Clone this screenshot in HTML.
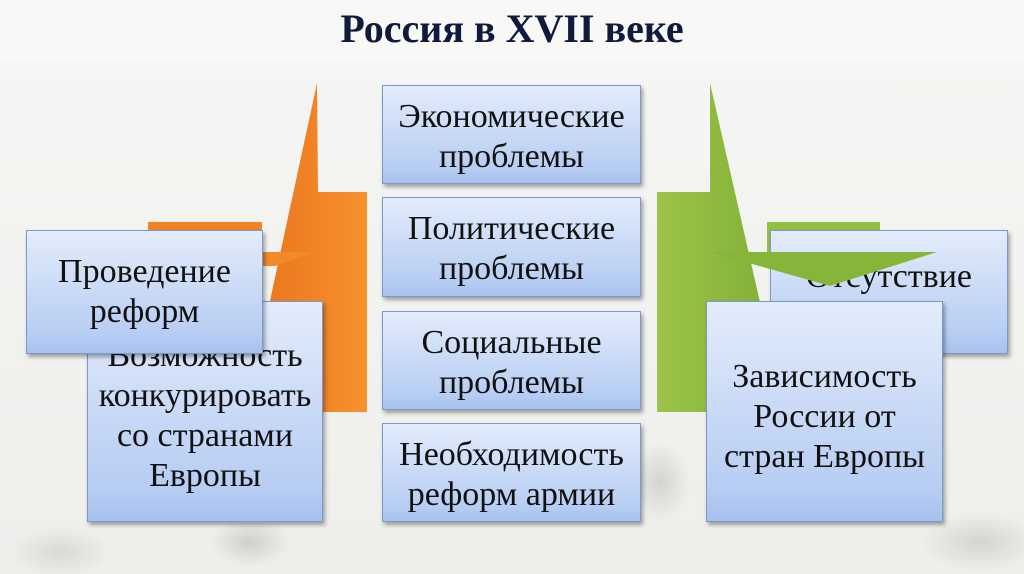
<!DOCTYPE html>
<html><head><meta charset="utf-8"><style>
body{margin:0;width:1024px;height:574px;overflow:hidden;background:#f8f8f7;font-family:"Liberation Serif",serif;position:relative}
.bg{position:absolute;left:0;top:62px;width:1024px;height:512px;background:radial-gradient(ellipse 40px 25px at 250px 480px,#cfcfcc,transparent),radial-gradient(ellipse 30px 40px at 660px 420px,#d3d3d0,transparent),radial-gradient(ellipse 60px 30px at 980px 480px,#d4d4d1,transparent),radial-gradient(ellipse 50px 25px at 60px 490px,#d8d8d5,transparent),linear-gradient(#f5f5f3,#eeeeeb)}
.t{position:absolute;top:5px;left:0;width:1024px;text-align:center;font-weight:bold;font-size:40px;color:#0f1a3c}
.b{position:absolute;box-sizing:border-box;border:1px solid #7d99cc;background:linear-gradient(#e3ecfb,#b7cdf3 85%,#a7c1ee);box-shadow:2px 3px 4px rgba(0,0,0,.35);display:flex;align-items:center;justify-content:center;text-align:center;font-size:34px;line-height:40px;color:#111;white-space:nowrap}
svg{position:absolute;left:0;top:0}
</style></head><body>
<div class="bg"></div>
<div class="t">Россия в XVII веке</div>
<svg width="1024" height="574">
<defs>
<linearGradient id="o" x1="0" x2="1"><stop offset="0" stop-color="#e8711c"/><stop offset="1" stop-color="#f7922d"/></linearGradient>
<linearGradient id="g" x1="0" x2="1"><stop offset="0" stop-color="#9cc548"/><stop offset="1" stop-color="#7fac35"/></linearGradient>
</defs>
<rect x="148" y="222" width="114" height="80" fill="#f08425"/>
<polygon points="317,83 318,192 367,192 367,412 246,412" fill="url(#o)"/>
<polygon points="263,252 318,252 275,266 263,266" fill="#f08a2a"/>
<polygon points="710,83 785,412 657,412 657,192 710,192" fill="url(#g)"/>
<rect x="767" y="222" width="113" height="32" fill="#92c043"/>
</svg>
<div class="b" style="left:770px;top:230px;width:238px;height:124px;display:block;padding-top:26px">Отсутствие<br>флота</div>
<svg width="1024" height="574"><polygon points="710,252 937,252 830,286" fill="#86b53a"/></svg>
<div class="b" style="left:87px;top:301px;width:236px;height:221px;padding-top:8px">Возможность<br>конкурировать<br>со странами<br>Европы</div>
<div class="b" style="left:26px;top:230px;width:237px;height:124px">Проведение<br>реформ</div>
<div class="b" style="left:382px;top:85px;width:259px;height:99px;padding-top:4px">Экономические<br>проблемы</div>
<div class="b" style="left:382px;top:197px;width:259px;height:100px;padding-top:4px">Политические<br>проблемы</div>
<div class="b" style="left:382px;top:311px;width:259px;height:99px;padding-top:4px">Социальные<br>проблемы</div>
<div class="b" style="left:382px;top:423px;width:259px;height:99px;padding-top:4px">Необходимость<br>реформ армии</div>
<div class="b" style="left:706px;top:301px;width:237px;height:221px;padding-top:10px">Зависимость<br>России от<br>стран Европы</div>
</body></html>
